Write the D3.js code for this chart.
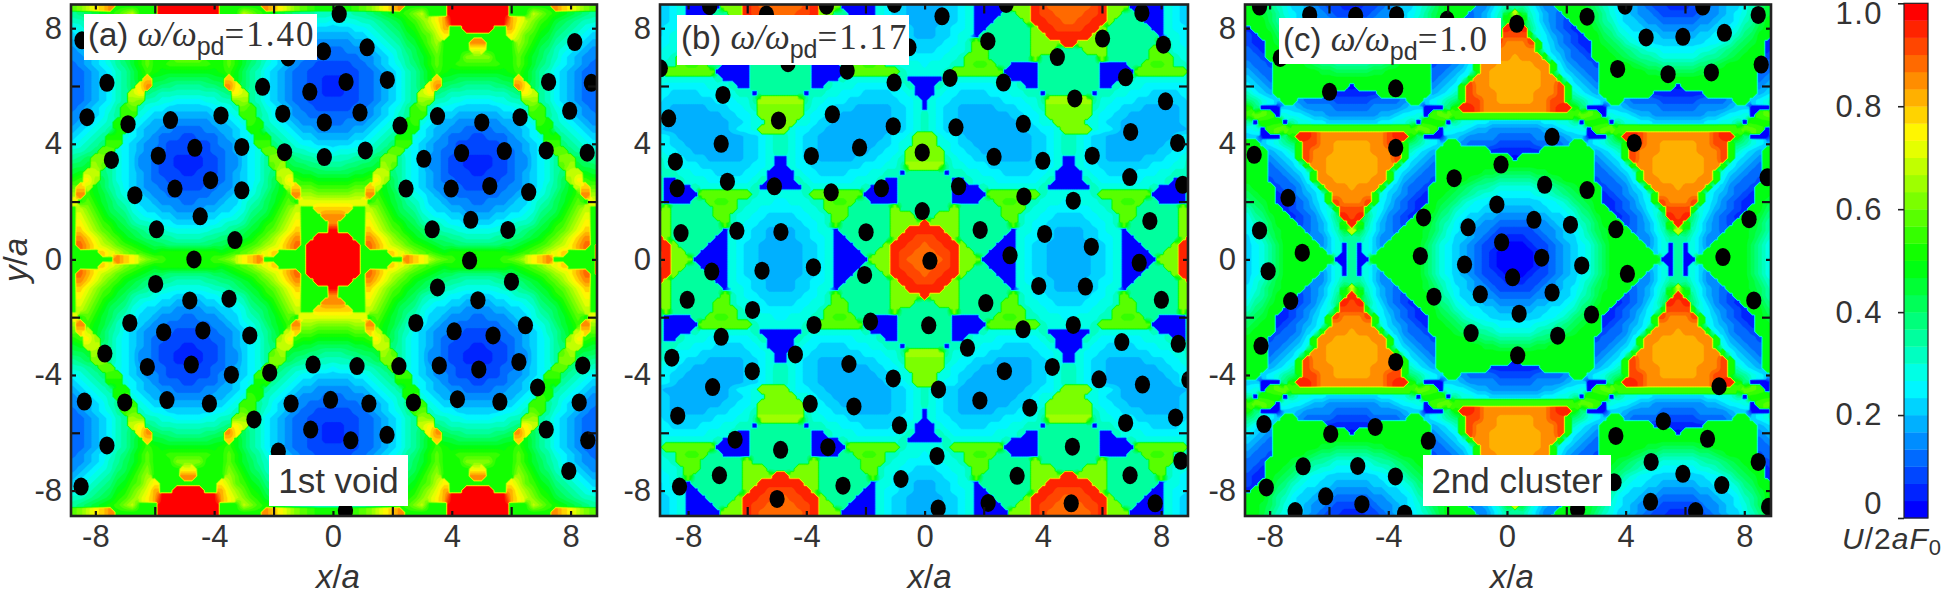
<!DOCTYPE html>
<html><head><meta charset="utf-8">
<script src="https://cdn.jsdelivr.net/npm/d3@7/dist/d3.min.js"></script>
<style>html,body{margin:0;padding:0;background:#fff}svg{display:block}text{font-family:"Liberation Sans",Arial,sans-serif;fill:#333}</style>
</head><body><svg id="c" width="1950" height="596"></svg>
<script>
// Potential level (0-29, base-36 digit) on a 0.25 a grid.
// Each field holds the quadrant x>=0, y>=0 (rows y=9 -> 0, columns x=0 -> 9); the picture is mirror symmetric about its centre.
const fieldA=[
"fffghikmnpfffffftttt ttttffffffpnmkihg",
"fffghikmnpfffffftttt ttttffffffpnmkihg",
"999aabcdefgikffftttt ttttfffkigfedcbaa",
"788899abcdfgikmotttt ttttomkigfdcba998",
"6667789abcefhjlofftt ttffoljhfecba9877",
"55566789abdeghkmffff ffffmkhgedba98766",
"444556789acdfhjffffp pffffjhfdca987655",
"3344456789bcegiffffl lffffigecb9876544",
"3333445679acdfhfffii iifffhfdca9765443",
"2223345678abdfhffggg gggffhfdba8765433",
"22223345679acegfeeee eeeefgeca97654332",
"11223345679acenddccc cccddneca97654332",
"11223345679acmpcbbaa aabbcpmca97654332",
"11223345679akmba9999 9999abmka97654332",
"22223345679aji998877 778899ija97654332",
"2223345678agh9877666 6667789hga8765433",
"3333445679agg8766555 5556678gga9765443",
"3344456789fg87655444 44455678gf9876544",
"444556789aff76554433 33445567ffa987655",
"55566789aff876543332 233345678ffa98766",
"6667789abgg765443222 222344567ggba9877",
"788899abhh8765433222 2223345678hhba998",
"999aabciia8764432211 1122344678aiicbaa",
"aabbccdjha8764432211 1122344678ahjdccb",
"cccddekkba8765432221 1222345678abkkedd",
"eeeffgmjca8765433222 2223345678acjmgff",
"ggghhnkeca9765443322 2233445679aceknhh",
"iiijjpgedb9876544333 3334456789bdegpjj",
"lllllfhfdca986654443 344456689acdfhfll",
"nnnffkigecba87665544 44556678abcegikff",
"ppfffljhfdcb98776655 55667789bcdfhjlff",
"pffffmkigfdca9987766 6677899acdfgikmff",
"tffffnljhgedcba99888 88899abcdeghjlnff",
"tttffpnljhgedcbbaa99 99aabbcdeghjlnpff",
"ttttfqomkjhgfedccbbb bbbccdefghjkmoqft",
"ttttffffnlkihgfeffff ffffefghiklnfffft",
"ttttffffffpnmkihgfff fffghikmnpfffffft"];
const fieldB=[
"555667800000iiisrqqq qqqrsiii000008766",
"555667800000iiisrqqq qqqrsiii000008766",
"55566780000aaiisrrqq qqrrsiiaa00008766",
"5556678000aaaaissrrq qrrssiaaaa0008766",
"556677800aaaaaaissrr rrssiaaaaaa008776",
"55667880aaaaaaaiisss sssiiaaaaaaa08876",
"6667789haaaaaaaiiiis siiiiaaaaaaah9877",
"6677889hhaaaaaaiiiaa aaiiiaaaaaahh9887",
"777889hhhaaaaaaiaaaa aaaaiaaaaaahhh988",
"788899hgghaa0000aaaa aaaa0000aahggh998",
"8889hhhhhhh00000aaaa aaaa00000hhhhhhh9",
"000988888889 0000aaaa aaaa000098888888 9",
"0098777777888900aaaa aaaa00988877777 78",
"00877666677788990aaa aaa09988777666677",
"087766666667778 8ajjj jjja88777666666 67",
"08766555556667789iii iii98776665555566",
"98766555555566778iii iii87766555555566",
"9876655555555667 88ii ii887665555555566",
"9876655555555566 778ii ii877655555555566",
"ii87765555555556 6789 987665555555556 77",
"ii88766555555556 6789 98766555555556 678",
"iii8776655555556 6789 987665555555667 78",
"iii98776665555566780 08766555556667789",
"jjja8877766666667780 08776666666777 88a",
"aaa09988777666677800 00877666677788990",
"aaaa0098887777778900 00987777778889 00a",
"aaaa0000988888889000 00098888888 90000a",
"aaaa00000hhhhhhh9888 888 9hhhhhhh00000a",
"aaaa0000aahggh998887 788899hgghaa0000a",
"aaaaiaaaaaahhh988777 777889hhhaaaaaaia",
"aaiiiaaaaaahh9887766 6677889hhaaaaaaii",
"siiiiaaaaaaah9877666 6667789haaaaaaaii",
"sssiiaaaaaaa08876655 55667880aaaaaaaii",
"rrssiaaaaaa008776655 556677800aaaaaais",
"qrrssiaaaa0008766555 5556678000aaaaiss",
"qqrrsiiaa00008766555 55566780000aaiisr",
"qqqrsiii000008766555 555667800000iiisr"];
const fieldC=[
"a0864eeeeeca87654322100 0122345678acee",
"aa8644eeeedb98665432211 1223456689bdee",
"kd97543eeedca8765443222 223445678acdee",
"sfa75432eeeca9766544333 334456679aceee",
"rsb864321eedba876655444 44556678abdee1",
"rrf8754321eecb987766555 55667789bcee12",
"pprf7643211edcb98776666 6667789bcde112",
"pppf8654321eedcba988777 77889abcdee123",
"opppf764332eeedcbaa9888 889aabcdeee233",
"oooppf754332eeeedcbbaaa aabbcdeeee2334",
"oooopf865433eeeeeeddccc ccddeeeeee3345",
"oooоppf86543eeeeeeeeeee eeeeeeeeee3456".replace("о","o"),
"oooopprf7654eeeeeeeeee0 eeeeeeeeee4567",
"oooppprf9765eeeeeee1111 111eeeeeee5679",
"oooрprrfba876ee43333222".replace("р","p")+" 2233334ee678ab",
"ppppprssfb00066544 44333 334444566000bf",
"ggggggggghhg08776554444 4445567780ghhg",
"66667788a0fff0a88776666 66677 88a0fff0a",
"44445567780ghhggggggggg gggggggghhg087",
"3334444566000bfssrppppp pppprssfb00066",
"22233334ee678abfrrppooo ooppr rfba876ee",
"1111eeeeeee5679frpppooo ooppprf9765eee",
"0eeeeeeeeee4567frppoooo ooopprf7654eee",
"eeeeeeeeeee34568fppoooo oooppf86543eee",
"cccddeeeeee334568fpoooo ooopf865433eee",
"aaabbcdeeee233457fppooo ooppf754332eee",
"8889aabcdeee233467fpppo pppf764332eeed",
"777889abcdee1234568fppp ppf8654321eedc",
"66667789bcde1123467frpp prf7643211edcb",
"555667789bcee1234578frr rf8754321eecb9",
"444556678abdee123468bsr sb864321eedba8",
"3334456679aceee23457afs fa75432eeeca97",
"2223445678acdeee34579dk d97543eeedca87",
"11223456689bdeeee4468aa a8644eeeedb986",
"00122345678aceeeee4680a 0864eeeeeca876",
"00012345678aceeeeee680a 086eeeeeeca876",
"00012345678aceeeeeee00a 00eeeeeeeca876"];
// Particle positions in units of a
const pointsA=[[.21,8.49],[-8.45,7.58],[-.32,7.2],[1.15,7.34],[-1.51,6.99],[8.14,7.52],[-7.61,6.11],[-2.37,5.97],[.44,6.14],[-.78,5.8],[1.83,6.21],[7.26,6.14],[8.7,6.11],[-8.28,4.92],[-6.9,4.68],[-5.47,4.82],[-3.77,4.98],[-1.69,5.04],[-.29,4.74],[.91,5.08],[2.26,4.63],[3.52,4.96],[5.01,4.74],[6.3,4.92],[7.97,5.14],[-7.46,3.44],[-5.88,3.59],[-4.65,3.86],[-3.07,3.89],[-1.63,3.71],[-.29,3.54],[1.09,3.77],[3.06,3.48],[4.33,3.68],[5.77,3.75],[7.18,3.77],[8.56,3.69],[-6.67,2.22],[-5.32,2.45],[-4.12,2.74],[-3.07,2.39],[2.46,2.45],[3.98,2.45],[5.28,2.54],[6.59,2.33],[-4.47,1.49],[4.64,1.37],[-5.94,1.04],[3.34,1.04],[5.89,1.02],[-3.3,.67],[-4.68,0],[4.6,-.04],[-5.97,-.85],[3.52,-.97],[6.01,-.77],[-4.82,-1.42],[-3.5,-1.36],[4.88,-1.41],[-6.84,-2.2],[-5.7,-2.52],[-4.38,-2.46],[-2.8,-2.63],[2.79,-2.2],[4.08,-2.49],[5.39,-2.63],[6.48,-2.28],[-7.68,-3.26],[-6.25,-3.72],[-4.77,-3.64],[-3.42,-3.99],[-2.13,-3.92],[-.67,-3.64],[.81,-3.69],[2.22,-3.69],[3.58,-3.67],[4.91,-3.81],[6.26,-3.55],[8.41,-3.67],[6.89,-4.43],[-8.37,-4.92],[-7.01,-4.95],[-5.59,-4.87],[-4.16,-4.99],[-1.41,-4.99],[-.08,-4.86],[1.21,-4.99],[2.71,-4.95],[4.19,-4.84],[5.62,-4.93],[8.29,-4.95],[-2.66,-5.54],[-.75,-5.89],[.6,-6.26],[1.82,-6.07],[7.18,-5.89],[-7.61,-6.44],[8.58,-6.26],[-1.84,-6.65],[7.94,-7.32],[-8.48,-7.86],[.42,-8.7]];
const pointsB=[[-7.27,8.76],[-5.35,8.47],[-3.32,8.78],[-1.02,8.84],[.59,8.41],[2.76,8.84],[7.35,8.53],[2.14,7.55],[6.02,7.64],[8.08,7.43],[-.53,7.34],[4.49,7],[-8.94,6.61],[-4.62,6.79],[-2.62,6.53],[-1.03,6.12],[.86,6.28],[2.67,6.12],[6.8,6.3],[-6.82,5.69],[5.08,5.57],[8.15,5.47],[-8.66,4.88],[-4.94,4.81],[-3.12,5.02],[-1.06,4.61],[1.06,4.57],[3.34,4.69],[6.97,4.41],[-6.88,4],[-2.2,3.87],[8.56,4.03],[-.08,3.7],[-8.43,3.38],[-3.83,3.58],[2.35,3.55],[4,3.41],[5.67,3.59],[6.94,2.85],[-6.67,2.69],[-8.37,2.46],[-5.08,2.53],[-1.46,2.46],[1.15,2.53],[8.73,2.58],[-3.16,2.32],[3.36,2.18],[5.03,2.03],[-.08,1.67],[7.62,1.33],[-8.24,.91],[-6.35,.99],[-4.86,.95],[-1.98,.94],[1.88,1.02],[4.06,.88],[5.64,.44],[.18,-.05],[2.89,.14],[-3.76,-.27],[-5.5,-.39],[-7.2,-.42],[-2.03,-.54],[7.26,-.12],[3.86,-.92],[5.44,-.94],[-8.03,-1.4],[2.07,-1.51],[8.01,-1.4],[-5.82,-1.75],[-1.83,-2.15],[-3.74,-2.27],[.14,-2.28],[5.03,-2.27],[3.33,-2.42],[-6.88,-2.68],[6.67,-2.86],[8.58,-2.92],[1.45,-3.06],[-8.55,-3.4],[-4.37,-3.29],[-2.56,-3.62],[4.32,-3.72],[-5.83,-3.87],[2.7,-3.87],[-1.06,-4.12],[-7.17,-4.42],[5.9,-4.15],[7.37,-4.33],[8.94,-4.17],[.47,-4.5],[-3.87,-5],[1.87,-4.88],[3.56,-5.13],[-2.39,-5.09],[-8.35,-5.41],[8.49,-5.47],[-.85,-5.74],[6.8,-5.66],[-6.41,-6.24],[-4.87,-6.59],[-3.27,-6.5],[5,-6.48],[.42,-6.8],[8.67,-6.97],[-6.94,-7.47],[3.13,-7.49],[6.95,-7.47],[-.8,-7.6],[-2.76,-7.83],[-8.29,-7.86],[-4.99,-8.29],[2.15,-8.43],[4.96,-8.44],[7.8,-8.44],[.46,-8.62]];
const pointsC=[[-8.34,8.75],[-6.65,8.46],[-5.1,8.43],[-3.72,8.46],[-2.02,8.29],[3.98,8.78],[6.6,8.75],[8.47,8.46],[.33,8.15],[2.7,8.4],[-7.64,6.97],[4.69,7.68],[5.93,7.7],[7.33,7.84],[3.73,6.59],[5.43,6.41],[6.89,6.47],[8.57,6.74],[-5.98,5.8],[-3.75,5.92],[1.52,4.24],[-3.75,3.86],[4.29,4.03],[-8.52,3.62],[-.2,3.28],[-1.78,2.81],[1.27,2.58],[2.7,2.4],[8.77,2.84],[-7.38,2.13],[-.34,1.9],[-2.81,1.45],[.91,1.37],[2.14,1.2],[-1.31,1.11],[3.67,1.04],[-8.34,1],[8.16,1.39],[-.18,.59],[-2.92,.12],[-6.9,.23],[1.17,.06],[-1.43,-.18],[2.52,-.21],[7.28,.08],[-8.05,-.41],[4.06,-.5],[.19,-.62],[-.9,-1.21],[1.52,-1.15],[-2.46,-1.29],[-7.29,-1.44],[8.32,-1.42],[.41,-1.88],[2.85,-1.91],[-1.21,-2.55],[1.71,-2.64],[-8.29,-2.99],[.36,-3.32],[-3.75,-3.55],[7.15,-4.39],[-8.19,-5.7],[5.27,-5.6],[-4.44,-5.8],[-5.94,-6.04],[3.67,-6.11],[6.76,-6.21],[-2.65,-6.28],[-5.03,-7.15],[-6.87,-7.16],[4.86,-7.01],[8.47,-7.01],[-3.76,-7.51],[5.93,-7.42],[7.24,-7.81],[-8.11,-7.89],[3.61,-7.71],[-6.11,-8.2],[4.84,-8.39],[-4.89,-8.47],[-7.14,-8.71],[-3.45,-8.8],[6.36,-8.71],[2.38,-8.65],[8.82,-8.56]];
const axisTicks=[-8,-6,-4,-2,0,2,4,6,8];
const labelTicks=[-8,-4,0,4,8];
const barTicks=[0,.2,.4,.6,.8,1];
const panelTags=["(a)","(b)","(c)"];
const panelRatios=["1.40","1.17","1.0"];
const notes=["1st void","","2nd cluster"];

const svg=d3.select("#c");
const levelColor=i=>d3.scaleLinear().domain([0,.25,.5,.75,1]).range(["#0000ff","#00ffff","#00ff00","#ffff00","#ff0000"])(i/29);
const serif='"Liberation Serif","Times New Roman",serif';

// Fine sampling of the level grid for contouring: keeps gentle slopes smooth and steep steps crisp.
function refine(all,f){
 const ny=all.length,nx=all[0].length,W=(nx-1)*f+1,H=(ny-1)*f+1,out=new Float64Array(W*H);
 for(let Y=0;Y<H;Y++)for(let X=0;X<W;X++){
  const i=Math.min(Math.floor(X/f),nx-2),j=Math.min(Math.floor(Y/f),ny-2),u=X/f-i,v=Y/f-j;
  const c=[all[j][i],all[j][i+1],all[j+1][i],all[j+1][i+1]],w=[(1-u)*(1-v),u*(1-v),(1-u)*v,u*v];
  const hi=Math.max(...c),lo=Math.min(...c);
  let val;
  if(hi-lo<=5){val=d3.sum(c,(d,k)=>d*w[k]);}
  else{const mid=(hi+lo)/2;let m=0,a=0,wa=0,b=0,wb=0;
   c.forEach((d,k)=>{if(d>mid){m+=w[k];a+=d*w[k];wa+=w[k];}else{b+=d*w[k];wb+=w[k];}});
   val=m>=.5?a/wa:b/wb;}
  out[Y*W+X]=val;
 }
 return {W,H,out};
}

const panels=[
 {f:fieldA,p:pointsA,x0:71,x1:597,dx:[-8.82,8.89],cx:0,box:[84,14,233,46],base:32,note:[269,455,139,51]},
 {f:fieldB,p:pointsB,x0:660,x1:1188,dx:[-8.95,8.91],cx:0,box:[677,15,232,50],base:34,note:null},
 {f:fieldC,p:pointsC,x0:1245,x1:1771,dx:[-8.83,8.9],cx:.27,box:[1279,18,222,46],base:33,note:[1423,455,188,51]}
];
const y0=4.5,y1=516,dy=[8.82,-8.88];

panels.forEach((P,k)=>{
 const xs=d3.scaleLinear().domain(P.dx).range([P.x0,P.x1]);
 const ys=d3.scaleLinear().domain(dy).range([y0,y1]);
 const g=svg.append("g");
 const id="clip"+k;
 svg.append("clipPath").attr("id",id).append("rect").attr("x",P.x0).attr("y",y0).attr("width",P.x1-P.x0).attr("height",y1-y0);
 const rows=P.f.map(r=>{let s=r.replace(/\s/g,"");while(s.length<37)s+=s[s.length-1];s=s.slice(0,37);
   const v=[...s].map(c=>parseInt(c,36));return [v[36],...v.slice(1).reverse(),...v,v[36]];});
 const all=[rows[0],...rows,...rows.slice(0,-1).reverse(),rows[0]];
 const nx=all[0].length,ny=all.length,fac=4;
 const R=refine(all,fac);
 const mapX=i=>xs(P.cx+((i-.5)/fac-(nx-1)/2)*.25), mapY=j=>ys(((ny-1)/2-(j-.5)/fac)*.25);
 const path=d3.geoPath(d3.geoTransform({point(x,y){this.stream.point(mapX(x),mapY(y));}}));
 const th=d3.range(30).map(i=>i-.5);
 const contours=d3.contours().size([R.W,R.H]).thresholds(th)(Array.from(R.out));
 const plot=g.append("g").attr("clip-path",`url(#${id})`);
 plot.append("rect").attr("x",P.x0).attr("y",y0).attr("width",P.x1-P.x0).attr("height",y1-y0).attr("fill",levelColor(0));
 plot.selectAll("path").data(contours).join("path").attr("d",path).attr("fill",(d,i)=>levelColor(i)).attr("stroke",(d,i)=>levelColor(i)).attr("stroke-width",.4);
 plot.selectAll("ellipse").data(P.p).join("ellipse").attr("cx",d=>xs(d[0])).attr("cy",d=>ys(d[1])).attr("rx",7.6).attr("ry",9).attr("fill","#000");
 const len=v=>labelTicks.includes(v)?5:9;
 const fmt=v=>labelTicks.includes(v)?String(v):"";
 const ax=(gen,tx,ty,labels)=>{
   const a=g.append("g").attr("transform",`translate(${tx},${ty})`).call(gen.tickValues(axisTicks).tickFormat(labels?fmt:()=>"").tickSizeOuter(0));
   a.select(".domain").remove();
   a.selectAll(".tick line").attr("stroke","#111").attr("stroke-width",2.2);
   a.selectAll(".tick text").attr("font-size",31).style("fill","#333");
   return a;
 };
 const setLen=(a,attr,sign)=>a.selectAll(".tick line").attr(attr,v=>sign*len(v));
 setLen(ax(d3.axisBottom(xs),0,y1,true).call(a=>a.selectAll(".tick text").attr("dy",0).attr("y",31)),"y2",-1);
 setLen(ax(d3.axisTop(xs),0,y0,false),"y2",1);
 setLen(ax(d3.axisLeft(ys),P.x0,0,true).call(a=>a.selectAll(".tick text").attr("x",-9)),"x2",1);
 setLen(ax(d3.axisRight(ys),P.x1,0,false),"x2",-1);
 g.append("rect").attr("x",P.x0).attr("y",y0).attr("width",P.x1-P.x0).attr("height",y1-y0).attr("fill","none").attr("stroke","#222").attr("stroke-width",2.6);
 const xl=g.append("text").attr("x",xs(0)+5).attr("y",588).attr("text-anchor","middle").attr("font-size",33);
 xl.append("tspan").attr("font-style","italic").text("x");xl.append("tspan").text("/");xl.append("tspan").attr("font-style","italic").text("a");
 g.append("rect").attr("x",P.box[0]).attr("y",P.box[1]).attr("width",P.box[2]).attr("height",P.box[3]).attr("fill","#fff");
 const t=g.append("text").attr("x",P.box[0]+4).attr("y",P.box[1]+P.base).attr("font-size",33);
 t.append("tspan").text(panelTags[k]+" ");
 t.append("tspan").style("font-family",serif).attr("font-size",35).attr("font-style","italic").text("ω/ω");
 t.append("tspan").attr("font-size",25).attr("dy",9).text("pd");
 t.append("tspan").style("font-family",serif).attr("font-size",35).attr("letter-spacing",2).attr("dy",-9).text("="+panelRatios[k]);
 if(P.note){
  g.append("rect").attr("x",P.note[0]).attr("y",P.note[1]).attr("width",P.note[2]).attr("height",P.note[3]).attr("fill","#fff");
  g.append("text").attr("x",P.note[0]+P.note[2]/2).attr("y",P.note[1]+38).attr("text-anchor","middle").attr("font-size",35).text(notes[k]);
 }
});
const yl=svg.append("text").attr("transform","translate(27,260) rotate(-90)").attr("text-anchor","middle").attr("font-size",33);
yl.append("tspan").attr("font-style","italic").text("y");yl.append("tspan").text("/");yl.append("tspan").attr("font-style","italic").text("a");

const bar=d3.scaleLinear().domain([0,1]).range([518,3.3]);
const bands=d3.range(30);
svg.append("g").selectAll("rect").data(bands).join("rect").attr("x",1904).attr("width",24)
 .attr("y",i=>bar((i+1)/30)).attr("height",(518-3.3)/30+.3).attr("fill",levelColor);
svg.append("rect").attr("x",1904).attr("y",3.3).attr("width",24).attr("height",514.7).attr("fill","none").attr("stroke","#222").attr("stroke-width",1.2);
const cb=svg.append("g").attr("transform","translate(1904,0)").call(d3.axisLeft(bar).tickValues(barTicks).tickSize(6).tickFormat(d=>d===0?"0":d.toFixed(1)).tickSizeOuter(0));
cb.select(".domain").remove();
cb.selectAll(".tick line").attr("stroke","#222").attr("stroke-width",1.6);
cb.selectAll(".tick text").attr("font-size",31).attr("x",-21).attr("letter-spacing",1.5).style("fill","#333")
  .attr("y",d=>d===1?10:d===0?-14:0);
const ul=svg.append("text").attr("x",1842).attr("y",549).attr("font-size",30).attr("letter-spacing",1);
ul.append("tspan").attr("font-style","italic").text("U");ul.append("tspan").text("/2");ul.append("tspan").attr("font-style","italic").text("aF");
ul.append("tspan").attr("font-size",22).attr("dy",6).text("0");
</script></body></html>
